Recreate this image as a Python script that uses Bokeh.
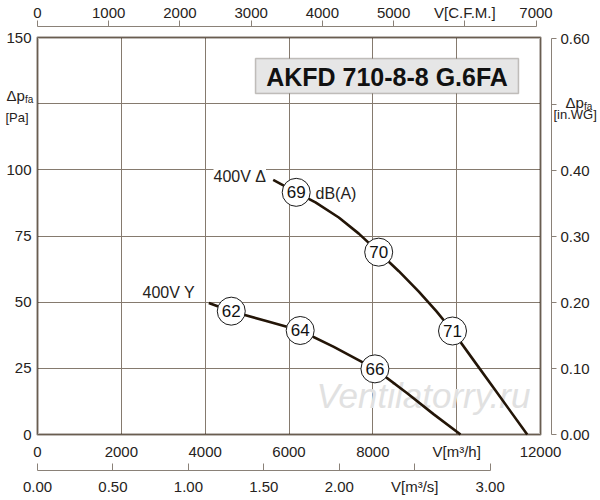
from bokeh.plotting import figure
from bokeh.models import (Range1d, LinearAxis, FixedTicker, NumeralTickFormatter,
                          Grid, Label, BoxAnnotation)
from bokeh.core.properties import value
from bokeh.embed import file_html
from bokeh.resources import INLINE

# ---------------- data ----------------
flow_ticks_m3h = [0, 2000, 4000, 6000, 8000, 10000, 12000]
flow_ticks_cfm = [0, 1000, 2000, 3000, 4000, 5000, 6000, 7000]
flow_ticks_m3s = [0, 0.5, 1.0, 1.5, 2.0, 2.5, 3.0]
pressure_ticks_pa = [0, 25, 50, 75, 100, 125, 150]
pressure_ticks_inwg = [0, 0.1, 0.2, 0.3, 0.4, 0.5, 0.6]

# 400V delta curve (V [m3/h], dp [Pa])
delta_flow = [5623, 6172, 6632, 7188, 7665, 8140, 8620, 9097, 9519, 9901, 10402, 10927, 11683]
delta_pressure = [96.2, 91.5, 87.7, 82.0, 75.9, 68.9, 61.7, 54.0, 46.5, 39.1, 28.1, 16.6, 0]
delta_db_flow = [6172, 8140, 9901]
delta_db_pressure = [91.5, 68.9, 39.1]
delta_db = ["69", "70", "71"]

# 400V star curve
star_flow = [4087, 4623, 5480, 6267, 7069, 8050, 8820, 9455, 10092]
star_pressure = [49.7, 46.6, 42.8, 39.3, 33.1, 24.8, 15.6, 7.6, 0]
star_db_flow = [4623, 6267, 8050]
star_db_pressure = [46.6, 39.3, 24.8]
star_db = ["62", "64", "66"]

CFM_PER_M3H = 1.69901
M3H_PER_M3S = 3600.0
PA_PER_INWG = 249.089

# ---------------- layout helpers (page pixels -> data) ----------------
W, H, OFF = 598, 498, 0
PX0, PX1 = 37.0, 540.0   # V = 0 .. 12000
PY0, PY1 = 434.0, 37.0   # dp = 0 .. 150
def vx(px):
    return (px - PX0) * (flow_ticks_m3h[-1] - flow_ticks_m3h[0]) / (PX1 - PX0)
def vy(py):
    return (PY0 - py) * (pressure_ticks_pa[-1] - pressure_ticks_pa[0]) / (PY0 - PY1)

x0, x1 = vx(OFF), vx(OFF + W)
y0, y1 = vy(OFF + H), vy(OFF)

TXT = "#262220"
AXC = "#8a8178"
GRID = "#857a6e"
FRAME = "#2a1b0c"
CURVE = "#231507"
FONT = "Liberation Sans"

p = figure(width=W, height=H, x_range=Range1d(x0, x1), y_range=Range1d(y0, y1),
           min_border=0, x_axis_location=None, y_axis_location=None,
           toolbar_location=None, output_backend="svg",
           outline_line_color=None, background_fill_color="white",
           border_fill_color="white")
p.center = [r for r in p.center if not isinstance(r, Grid)]

p.extra_x_ranges = {"cfm": Range1d(x0 / CFM_PER_M3H, x1 / CFM_PER_M3H),
                    "m3s": Range1d(x0 / M3H_PER_M3S, x1 / M3H_PER_M3S)}
p.extra_y_ranges = {"inwg": Range1d(y0 / PA_PER_INWG, y1 / PA_PER_INWG)}

# ---------------- grid ----------------
if "cross_bounds" in Grid.properties():
    gx = Grid(dimension=0, ticker=FixedTicker(ticks=flow_ticks_m3h),
              cross_bounds=(pressure_ticks_pa[0], pressure_ticks_pa[-1]),
              grid_line_color=GRID, grid_line_width=1)
    gy = Grid(dimension=1, ticker=FixedTicker(ticks=pressure_ticks_pa),
              cross_bounds=(flow_ticks_m3h[0], flow_ticks_m3h[-1]),
              grid_line_color=GRID, grid_line_width=1)
    p.add_layout(gx)
    p.add_layout(gy)
else:
    p.segment(x0=flow_ticks_m3h, x1=flow_ticks_m3h,
              y0=[pressure_ticks_pa[0]] * len(flow_ticks_m3h),
              y1=[pressure_ticks_pa[-1]] * len(flow_ticks_m3h),
              line_color=GRID, line_width=1, level="underlay")
    p.segment(x0=[flow_ticks_m3h[0]] * len(pressure_ticks_pa),
              x1=[flow_ticks_m3h[-1]] * len(pressure_ticks_pa),
              y0=pressure_ticks_pa, y1=pressure_ticks_pa,
              line_color=GRID, line_width=1, level="underlay")

# watermark
p.add_layout(Label(x=vx(316), y=vy(395), text="Ventilatorry.ru",
                   text_font=FONT, text_font_style="italic", text_font_size="35px",
                   text_color="#e1e1e1", text_align="left",
                   text_baseline="alphabetic", level="underlay"))

# ---------------- axes ----------------
def style(ax, standoff, tin=0, tout=0, line=None):
    ax.major_label_text_font = FONT
    ax.major_label_text_font_size = "15px"
    ax.major_label_text_color = TXT
    ax.major_label_standoff = standoff
    ax.minor_tick_line_color = None
    ax.major_tick_in = tin
    ax.major_tick_out = tout
    ax.axis_line_color = line
    ax.major_tick_line_color = line
    ax.axis_line_width = 1
    ax.major_tick_line_width = 1
    return ax

ax_left = LinearAxis(ticker=FixedTicker(ticks=pressure_ticks_pa), fixed_location=0,
                     major_label_overrides={125: ""})
p.add_layout(style(ax_left, 6), "left")

ax_m3h = LinearAxis(ticker=FixedTicker(ticks=flow_ticks_m3h), fixed_location=0,
                    major_label_overrides={10000: "V[m³/h]"})
p.add_layout(style(ax_m3h, 8), "below")

ax_m3s = LinearAxis(x_range_name="m3s", ticker=FixedTicker(ticks=flow_ticks_m3s),
                    fixed_location=vy(470), bounds=(flow_ticks_m3s[0], flow_ticks_m3s[-1]),
                    formatter=NumeralTickFormatter(format="0.00"),
                    major_label_overrides={2.5: "V[m³/s]"})
p.add_layout(style(ax_m3s, 7, tin=7, tout=0, line=AXC), "below")

ax_cfm = LinearAxis(x_range_name="cfm", ticker=FixedTicker(ticks=flow_ticks_cfm),
                    fixed_location=vy(26), bounds=(flow_ticks_cfm[0], flow_ticks_cfm[-1]),
                    major_label_overrides={6000: "V[C.F.M.]"})
p.add_layout(style(ax_cfm, 0, tin=0, tout=6, line=AXC), "above")

ax_inwg = LinearAxis(y_range_name="inwg", ticker=FixedTicker(ticks=pressure_ticks_inwg),
                     fixed_location=vx(551),
                     bounds=(pressure_ticks_inwg[0], pressure_ticks_inwg[-1]),
                     formatter=NumeralTickFormatter(format="0.00"),
                     major_label_overrides={0.5: ""})
p.add_layout(style(ax_inwg, 4, tin=0, tout=5, line=AXC), "right")

# axis titles
def lab(px, py, text, size, align="left"):
    p.add_layout(Label(x=vx(px), y=vy(py), text=text, text_font=FONT,
                       text_font_size=size, text_color=TXT, text_align=align,
                       text_baseline="alphabetic"))
lab(6, 95, "Δp", "15px")
lab(24.5, 98.5, "fa", "10px")
lab(5, 117, "[Pa]", "13px")
lab(565, 102, "Δp", "15px")
lab(583.5, 105.5, "fa", "10px")
lab(553, 114, "[in.WG]", "13px")

# ---------------- frame ----------------
p.add_layout(BoxAnnotation(left=flow_ticks_m3h[0], right=flow_ticks_m3h[-1],
                           bottom=pressure_ticks_pa[0], top=pressure_ticks_pa[-1],
                           fill_color=None, line_color=FRAME, line_width=3))

# title box
p.add_layout(BoxAnnotation(left=vx(255), right=vx(518), top=vy(58), bottom=vy(93),
                           fill_color="#e6e6e6", fill_alpha=1.0,
                           line_color="#4a4036", line_width=1.5))
p.add_layout(Label(x=vx(386.5), y=vy(76), text="AKFD 710-8-8 G.6FA",
                   text_font=FONT, text_font_style="bold", text_font_size="25px",
                   text_color="#111111", text_align="center", text_baseline="middle"))

# ---------------- curves ----------------
p.line(delta_flow, delta_pressure, line_width=2.6, line_color=CURVE, line_join="round")
p.line(star_flow, star_pressure, line_width=2.6, line_color=CURVE, line_join="round")

for fx, fy, t in ((delta_db_flow, delta_db_pressure, delta_db),
                  (star_db_flow, star_db_pressure, star_db)):
    p.scatter(fx, fy, size=28, fill_color="white", line_color="#1a1a1a", line_width=1)
    p.text(fx, fy, text=t, text_align="center", text_baseline="middle",
           text_font=value(FONT), text_font_size="17px", text_color="#111111")

# curve labels
for px, py, t in ((213, 176, "400V Δ"), (142, 292, "400V Y"), (315, 193, "dB(A)")):
    p.add_layout(Label(x=vx(px), y=vy(py), text=t, text_font=FONT,
                       text_font_size="16px", text_color=TXT, text_align="left",
                       text_baseline="middle",
                       background_fill_color="white" if t != "dB(A)" else None))

open("out.html", "w").write(file_html(p, INLINE))
